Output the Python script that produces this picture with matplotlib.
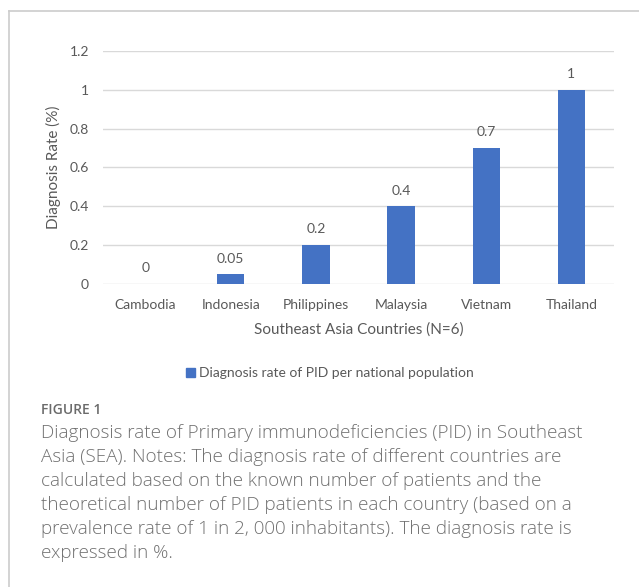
import numpy as np
import matplotlib.pyplot as plt
from matplotlib.lines import Line2D
from matplotlib.patches import Rectangle

# datos
countries = ['Cambodia', 'Indonesia', 'Philippines', 'Malaysia', 'Vietnam', 'Thailand']
rates = [0, 0.05, 0.2, 0.4, 0.7, 1]
rate_labels = ['0', '0.05', '0.2', '0.4', '0.7', '1']
yticks = [0, 0.2, 0.4, 0.6, 0.8, 1.0, 1.2]
ytick_labels = ['0', '0.2', '0.4', '0.6', '0.8', '1', '1.2']

caption_lines = [
    "Diagnosis rate of Primary immunodeficiencies (PID) in Southeast",
    "Asia (SEA). Notes: The diagnosis rate of different countries are",
    "calculated based on the known number of patients and the",
    "theoretical number of PID patients in each country (based on a",
    "prevalence rate of 1 in 2, 000 inhabitants). The diagnosis rate is",
    "expressed in %.",
]

W, H = 639, 587
bar_color = '#4472C4'
txt_color = '#595959'
chart_font = ['Lato', 'DejaVu Sans']
cap_font = ['Open Sans', 'DejaVu Sans']

fig = plt.figure(figsize=(W / 100, H / 100), dpi=100)

# marco gris (arriba e izquierda)
fig.add_artist(Line2D([9 / W, 1], [1 - 11 / H, 1 - 11 / H], color='#cccccc', lw=1.2))
fig.add_artist(Line2D([9 / W, 9 / W], [0, 1 - 11 / H], color='#cccccc', lw=1.2))

ax = fig.add_axes([103 / W, 1 - 284 / H, (614 - 103) / W, (284 - 51) / H])
x = np.arange(len(countries))
ax.bar(x, rates, width=0.32, color=bar_color, zorder=3)
for xi, v, lab in zip(x, rates, rate_labels):
    ax.annotate(lab, (xi, v), xytext=(0, 7), textcoords='offset points',
                ha='center', va='bottom', fontsize=10, color=txt_color, family=chart_font)

ax.set_xlim(-0.5, len(countries) - 0.5)
ax.set_ylim(0, 1.2)
ax.set_yticks(yticks)
ax.set_yticklabels(ytick_labels)
ax.set_xticks(x)
ax.set_xticklabels(countries)
ax.tick_params(length=0, labelsize=10, labelcolor=txt_color)
ax.tick_params(axis='y', pad=10)
ax.tick_params(axis='x', pad=11)
for lab in ax.get_xticklabels() + ax.get_yticklabels():
    lab.set_family(chart_font)
ax.grid(axis='y', color='#d9d9d9', lw=1, zorder=0)
for s in ax.spines.values():
    s.set_visible(False)
ax.set_ylabel('Diagnosis Rate (%)', fontsize=11, color=txt_color, family=chart_font, labelpad=6)
ax.set_xlabel('Southeast Asia Countries (N=6)', fontsize=11, color=txt_color, family=chart_font, labelpad=8)

# leyenda
fig.legend(handles=[Rectangle((0, 0), 1, 1, color=bar_color)],
           labels=['Diagnosis rate of PID per national population'],
           loc='center', bbox_to_anchor=(330 / W, 1 - 373 / H), frameon=False,
           handlelength=0.6, handleheight=0.6, handletextpad=0.3,
           prop={'family': chart_font, 'size': 10}, labelcolor=txt_color)

# pie de figura
fig.text(41 / W, 1 - 410 / H, 'FIGURE 1', fontsize=10, color='#6b6b6b',
         family=cap_font, weight='semibold', va='center')
for i, line in enumerate(caption_lines):
    fig.text(41 / W, 1 - (433 + 24 * i) / H, line, fontsize=13.6, color='#707070',
             family=cap_font, weight='light', va='center')

fig.savefig('out.png', dpi=100, facecolor='white')
